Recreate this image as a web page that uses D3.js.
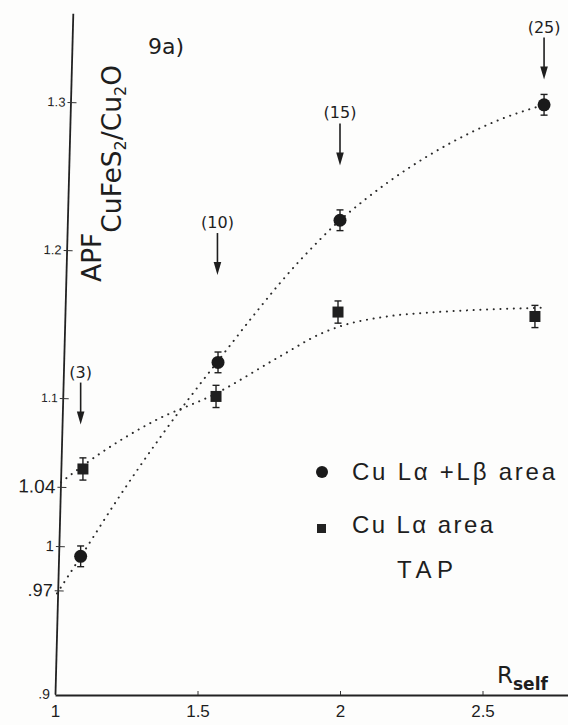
<!DOCTYPE html>
<html>
<head>
<meta charset="utf-8">
<title>APF vs R self</title>
<script src="https://d3js.org/d3.v7.min.js"></script>
<style>
  body { margin: 0; background: #fdfdfc; }
  text { fill: #1e1e1e; }
</style>
</head>
<body>
<div id="chart"></div>
<script>
// tick values and labels
var xTicks = [1, 1.5, 2, 2.5];
var xTickLabels = ["1", "1.5", "2", "2.5"];
var yTicks = [0.9, 0.97, 1, 1.04, 1.1, 1.2, 1.3];
var yTickLabels = [".9", ".97", "1", "1.04", "1.1", "1.2", "1.3"];

// Cu La+Lb area (circles)
var rCircle = [1.09, 1.572, 2.0, 2.716];
var apfCircle = [0.993, 1.124, 1.220, 1.298];
var errCircle = [0.007, 0.007, 0.007, 0.007];

// Cu La area (squares)
var rSquare = [1.098, 1.565, 1.993, 2.684];
var apfSquare = [1.052, 1.101, 1.158, 1.155];
var errSquare = [0.0075, 0.0075, 0.0075, 0.0075];

// dotted fit curves
var fitCircleR = [1.007, 1.091, 1.221, 1.368, 1.568, 1.870, 2.0, 2.088, 2.386, 2.561, 2.716];
var fitCircleY = [0.968, 0.993, 1.032, 1.073, 1.124, 1.195, 1.220, 1.234, 1.272, 1.288, 1.298];
var fitSquareR = [1.021, 1.147, 1.344, 1.565, 1.789, 1.940, 2.011, 2.165, 2.340, 2.561, 2.726];
var fitSquareY = [1.043, 1.061, 1.084, 1.103, 1.128, 1.144, 1.149, 1.155, 1.158, 1.160, 1.161];

// arrows with the (n) labels
var arrowR = [1.09, 1.57, 2.0, 2.716];
var arrowTip = [1.082, 1.183, 1.257, 1.315];
var arrowLabels = ["(3)", "(10)", "(15)", "(25)"];

var width = 568, height = 725;

var svg = d3.select("#chart").append("svg")
  .attr("width", width)
  .attr("height", height)
  .style("font-family", "'DejaVu Sans', sans-serif");

var x = d3.scaleLinear().domain([1, 2.8]).range([55, 568]);
var y = d3.scaleLinear().domain([0.9, 1.36]).range([694, 13]);

// x axis
var xAxis = svg.append("g")
  .attr("transform", "translate(0,695)")
  .call(d3.axisBottom(x)
    .tickValues(xTicks)
    .tickFormat(function(d, i) { return xTickLabels[i]; })
    .tickSizeInner(-4)
    .tickSizeOuter(0)
    .tickPadding(10));
xAxis.select(".domain").attr("stroke", "#222").attr("stroke-width", 1.8);
xAxis.selectAll(".tick line").attr("stroke", "#333").attr("stroke-width", 1);
xAxis.selectAll(".tick text").attr("font-size", 17).attr("fill", "#1e1e1e");

// y axis, leaning a little like the scan
var ySizes = { ".9": 14, ".97": 18, "1": 15, "1.04": 19, "1.1": 12, "1.2": 13, "1.3": 13 };
var yAxis = svg.append("g")
  .attr("transform", "translate(55,0) rotate(1.5,0,694)")
  .call(d3.axisLeft(y)
    .tickValues(yTicks)
    .tickFormat(function(d, i) { return yTickLabels[i]; })
    .tickSizeInner(-6)
    .tickSizeOuter(0)
    .tickPadding(5));
yAxis.select(".domain").attr("stroke", "#222").attr("stroke-width", 1.8);
yAxis.selectAll(".tick line").attr("stroke", "#333").attr("stroke-width", 1).attr("x1", -3);
yAxis.selectAll(".tick text")
  .attr("font-size", function(d, i) { return ySizes[yTickLabels[i]]; })
  .attr("fill", "#1e1e1e");
yAxis.selectAll(".tick").filter(function(d) { return d === 0.9; }).select("line").remove();

// dotted fits
var line = d3.line()
  .x(function(d) { return x(d[0]); })
  .y(function(d) { return y(d[1]); })
  .curve(d3.curveMonotoneX);

[[fitCircleR, fitCircleY], [fitSquareR, fitSquareY]].forEach(function(f) {
  svg.append("path")
    .attr("d", line(d3.zip(f[0], f[1])))
    .attr("fill", "none")
    .attr("stroke", "#2a2a2a")
    .attr("stroke-width", 2)
    .attr("stroke-linecap", "round")
    .attr("stroke-dasharray", "0.1,6.6");
});

// error bars
function errorBars(rs, vs, es) {
  var g = svg.append("g").attr("stroke", "#1e1e1e").attr("stroke-width", 1.4);
  rs.forEach(function(r, i) {
    var cx = x(r), y0 = y(vs[i] - es[i]), y1 = y(vs[i] + es[i]);
    g.append("line").attr("x1", cx).attr("x2", cx).attr("y1", y0).attr("y2", y1);
    g.append("line").attr("x1", cx - 3.5).attr("x2", cx + 3.5).attr("y1", y0).attr("y2", y0);
    g.append("line").attr("x1", cx - 3.5).attr("x2", cx + 3.5).attr("y1", y1).attr("y2", y1);
  });
}
errorBars(rCircle, apfCircle, errCircle);
errorBars(rSquare, apfSquare, errSquare);

svg.selectAll(".pc")
  .data(d3.zip(rCircle, apfCircle))
  .enter().append("circle")
  .attr("cx", function(d) { return x(d[0]); })
  .attr("cy", function(d) { return y(d[1]); })
  .attr("r", 6.5)
  .attr("fill", "#1a1a1a");

svg.selectAll(".ps")
  .data(d3.zip(rSquare, apfSquare))
  .enter().append("rect")
  .attr("x", function(d) { return x(d[0]) - 5.5; })
  .attr("y", function(d) { return y(d[1]) - 5.5; })
  .attr("width", 11)
  .attr("height", 11)
  .attr("fill", "#1f1f1f");

// arrows
var arrows = svg.selectAll(".arrow")
  .data(d3.zip(arrowR, arrowTip, arrowLabels))
  .enter().append("g")
  .attr("transform", function(d) { return "translate(" + x(d[0]) + "," + y(d[1]) + ")"; });
arrows.append("line")
  .attr("x1", 0).attr("x2", 0).attr("y1", -42).attr("y2", -10)
  .attr("stroke", "#1e1e1e").attr("stroke-width", 1.6);
arrows.append("path")
  .attr("d", "M-3.8,-13L3.8,-13L0,0Z")
  .attr("fill", "#1e1e1e");
arrows.append("text")
  .attr("y", -47)
  .attr("text-anchor", "middle")
  .attr("font-size", 16)
  .text(function(d) { return d[2]; });

// panel tag
svg.append("text")
  .attr("x", 148).attr("y", 54)
  .attr("font-size", 22)
  .text("9a)");

// y title
var yt = svg.append("text")
  .attr("transform", "translate(101,282) rotate(-90)")
  .attr("font-size", 26.5);
yt.append("tspan").text("APF");
yt.append("tspan").attr("dy", 20).text("CuFeS");
yt.append("tspan").attr("dy", 5).attr("font-size", 16).text("2");
yt.append("tspan").attr("dy", -5).text("/Cu");
yt.append("tspan").attr("dy", 5).attr("font-size", 16).text("2");
yt.append("tspan").attr("dy", -5).text("O");

// x title
var xt = svg.append("text")
  .attr("x", 497).attr("y", 683)
  .attr("font-size", 23);
xt.append("tspan").text("R");
xt.append("tspan").attr("dy", 7).attr("font-size", 17).attr("font-weight", "bold").text("self");

// legend
var leg = svg.append("g").style("font-family", "'Liberation Sans', Arial, sans-serif");
leg.append("circle").attr("cx", 322).attr("cy", 472).attr("r", 6).attr("fill", "#1a1a1a");
leg.append("text").attr("x", 352).attr("y", 480).attr("font-size", 24)
  .attr("textLength", 203).attr("lengthAdjust", "spacing")
  .text("Cu L\u03b1 +L\u03b2 area");
leg.append("rect").attr("x", 317).attr("y", 524).attr("width", 9).attr("height", 9).attr("fill", "#222");
leg.append("text").attr("x", 352).attr("y", 533).attr("font-size", 24)
  .attr("textLength", 141).attr("lengthAdjust", "spacing")
  .text("Cu L\u03b1 area");
leg.append("text").attr("x", 397).attr("y", 578).attr("font-size", 24)
  .attr("textLength", 56).attr("lengthAdjust", "spacing")
  .text("TAP");
</script>
</body>
</html>
